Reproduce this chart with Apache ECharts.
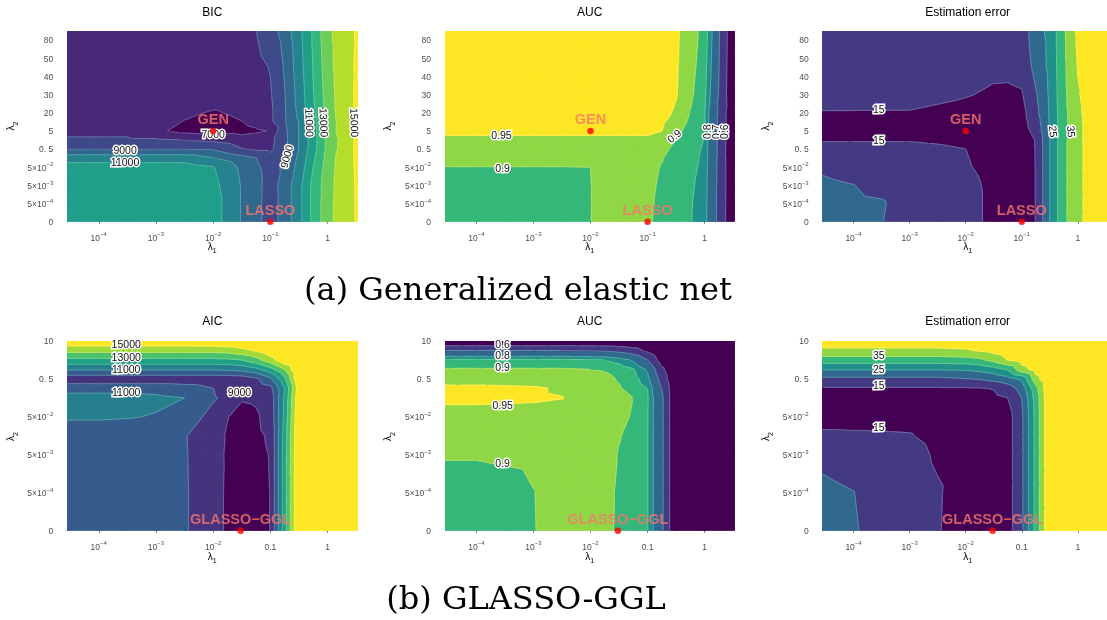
<!DOCTYPE html>
<html>
<head>
<meta charset="utf-8">
<script src="https://cdn.jsdelivr.net/npm/echarts@6/dist/echarts.min.js"></script>
<style>
  html, body { margin: 0; padding: 0; background: #ffffff; }
  #chart { width: 1107px; height: 620px; }
</style>
</head>
<body>
<div id="chart"></div>
<script>
// ---------- grids of the tuning parameters ----------
// λ1 on a log10 scale, λ2 as the position of its grid value on the λ2 axis
const lam1Top = [-4.55, -4, -3.5, -3, -2.5, -2, -1.5, -1.25, -1, -0.75, -0.5, -0.25, 0, 0.15, 0.3, 0.52];
const lam2Top = [0, 1, 2, 3, 3.5, 4, 4.5, 5, 5.5, 6, 7, 8.5, 10.5];
const lam1Bot = [-4.55, -4, -3.5, -3, -2.5, -2, -1.75, -1.5, -1.25, -1, -0.75, -0.5, 0, 0.52];
const lam2Bot = [0, 1, 2, 2.5, 3, 3.5, 3.75, 4, 4.25, 4.5, 4.75, 5];

// tick labels
const lam2TopTicks = ['0', '5×10^-4', '5×10^-3', '5×10^-2', '0. 5', '5', '20', '30', '40', '50', '80'];
const lam2BotTicks = ['0', '5×10^-4', '5×10^-3', '5×10^-2', '0. 5', '10'];
const lam1TickPos = [-4, -3, -2, -1, 0];
const lam1TopTicks = ['10^-4', '10^-3', '10^-2', '10^-1', '1'];
const lam1BotTicks = ['10^-4', '10^-3', '10^-2', '0.1', '1'];

// ---------- (a) generalized elastic net: rows follow lam2Top, columns lam1Top ----------
const bicValues = [
  [11500,11500,11500,11500,11500,11460,9930,9320,8500,9420,10670,12290,13620,14175,14550,15100],
  [11500,11500,11500,11500,11500,11460,9930,9320,8500,9420,10670,12290,13620,14175,14550,15100],
  [11500,11500,11500,11500,11500,11300,9930,9320,8550,9420,10670,12290,13550,14130,14540,15120],
  [11400,11400,11400,11400,11400,11050,9800,9200,8600,9200,10330,12000,13450,14090,14530,15150],
  [10600,10600,10600,10600,10600,10050,9360,9020,8300,9080,10190,11800,13360,14050,14500,15180],
  [8960,8960,8960,8960,8960,8900,8050,7850,7800,8830,10020,11600,13280,13915,14460,15200],
  [8150,8150,8150,8150,7980,7800,7400,7500,7700,8730,10020,11530,13250,13875,14440,15200],
  [7700,7700,7700,7200,6700,6500,6700,6850,7050,8800,10020,11600,13320,14000,14490,15200],
  [7600,7600,7600,7400,6950,6650,6980,7300,7800,8900,10050,11550,13300,13980,14480,15200],
  [7600,7600,7600,7500,7200,6900,7200,7400,7800,8900,10250,11800,13380,14060,14515,15180],
  [7600,7600,7600,7600,7600,7600,7600,7600,7900,8950,10400,11950,13450,14115,14545,15180],
  [7700,7700,7700,7700,7700,7700,7700,7700,8050,9100,10550,12050,13580,14180,14570,15150],
  [7700,7700,7700,7700,7700,7700,7700,7990,8585,9390,10710,12170,13720,14240,14600,15120]
];
const aucTopValues = [
  [0.875,0.875,0.875,0.875,0.875,0.899,0.93,0.93,0.905,0.89,0.87,0.853,0.82,0.736,0.641,0.51],
  [0.875,0.875,0.875,0.875,0.875,0.899,0.93,0.93,0.907,0.891,0.871,0.855,0.822,0.737,0.642,0.51],
  [0.875,0.875,0.875,0.875,0.875,0.899,0.93,0.93,0.91,0.893,0.873,0.86,0.825,0.738,0.643,0.51],
  [0.898,0.898,0.898,0.898,0.898,0.9,0.93,0.93,0.915,0.897,0.88,0.87,0.83,0.74,0.645,0.51],
  [0.93,0.93,0.93,0.93,0.93,0.93,0.93,0.93,0.93,0.903,0.88,0.872,0.835,0.737,0.65,0.5],
  [0.935,0.935,0.935,0.935,0.935,0.935,0.935,0.935,0.935,0.915,0.885,0.875,0.84,0.732,0.66,0.48],
  [0.94,0.94,0.94,0.94,0.94,0.94,0.94,0.94,0.94,0.93,0.898,0.878,0.847,0.726,0.668,0.46],
  [0.96,0.96,0.96,0.96,0.96,0.96,0.96,0.96,0.96,0.95,0.915,0.88,0.853,0.72,0.677,0.435],
  [0.962,0.962,0.962,0.962,0.962,0.962,0.962,0.962,0.962,0.955,0.93,0.89,0.855,0.73,0.672,0.45],
  [0.965,0.965,0.965,0.965,0.965,0.965,0.965,0.965,0.965,0.96,0.945,0.898,0.852,0.74,0.668,0.47],
  [0.965,0.965,0.965,0.965,0.965,0.965,0.965,0.965,0.965,0.962,0.953,0.91,0.862,0.765,0.66,0.5],
  [0.965,0.965,0.965,0.965,0.965,0.965,0.965,0.965,0.965,0.963,0.955,0.918,0.87,0.777,0.665,0.505],
  [0.965,0.965,0.965,0.965,0.965,0.965,0.965,0.965,0.965,0.963,0.957,0.925,0.88,0.79,0.67,0.51]
];
const errTopValues = [
  [21,21,20.2,17.5,16.5,16.5,14,12.5,12,15.125,25,34,38.4,41,42,43],
  [21,21,20.5,17.5,16.5,16.5,14,12.5,12,15.125,25,34,38.4,41,42,43],
  [21,20.1,18.5,17,16.5,16.3,14,12.5,12,15.125,25,34,38.4,41,42,43],
  [19.2,18,17,16.5,16,15.5,13.5,12.5,12,15.125,25,34,38.4,41,42,43],
  [16.5,16.5,16.5,16.5,16.5,15.3,13,12,12,15.2,25,34,38.4,41,42,43],
  [15.9,15.9,15.9,15.9,15.6,15.02,12.5,12,12,15.2,25,34,38.4,41,42,43],
  [14.8,14.8,14.8,14.8,14.5,14,12,11.5,11.8,15.3,25,33.8,38.5,41,42,43],
  [13.5,13.5,13.5,13.5,13.2,12.5,11.5,11.5,13,16.5,25.2,33.5,38.5,41,42,43],
  [14,14,14,14,13.8,13,12,12.5,13.2,17.5,25.5,33.5,38.6,41,42,43],
  [14.8,14.8,14.8,14.8,14.3,13.5,12.8,13,13.5,18.5,25.6,33.6,38.8,41.2,42.2,43.2],
  [16.5,16.5,16.3,16.2,15.8,15.3,14.3,14.2,14.6,19.5,25.8,33.8,39.5,41.5,42.5,43.5],
  [16.5,16.5,16.5,16.5,16.5,16.3,16,16,16.5,21.5,26.2,34,40.2,41.8,42.8,43.8],
  [16.5,16.5,16.5,16.5,16.5,16.6,16.8,17,17.1,22.9,26.4,34.2,41,42,43,44]
];

// ---------- (b) GLASSO-GGL: rows follow lam2Bot, columns lam1Bot ----------
const aicValues = [
  [10500,10500,10500,10500,10120,9260,8900,8700,8800,9010,12570,16150,17000,17000],
  [10500,10500,10500,10500,10120,9260,8900,8700,8800,9010,12570,16150,17000,17000],
  [10500,10500,10500,10500,10100,9230,8920,8720,8820,9030,12550,16150,17000,17000],
  [10500,10500,10500,10500,10080,9200,8950,8750,8850,9100,12500,16100,17000,17000],
  [11100,11100,11050,10950,10500,9700,9020,8800,8900,9300,12300,16000,17000,17000],
  [11300,11300,11250,11150,11000,10100,9800,9050,9100,9400,12200,15800,17000,17000],
  [10700,10700,10700,10700,10500,10010,9500,9300,9350,9700,12000,15600,17000,17000],
  [9300,9300,9300,9300,9300,9300,9300,9400,9800,10800,12800,16000,17000,17000],
  [11100,11100,11100,11100,11100,11100,11150,11300,11700,12600,14000,16200,17000,17000],
  [12750,12750,12750,12750,12750,12750,12800,13000,13600,14600,15800,16500,17000,17000],
  [14310,14310,14310,14310,14310,14330,14400,14700,15100,15700,16200,16600,17000,17000],
  [15750,15750,15750,15750,15750,15800,15900,16000,16200,16400,16600,16800,17000,17000]
];
const aucBotValues = [
  [0.87,0.87,0.87,0.897,0.93,0.93,0.93,0.88,0.87,0.852,0.72,0.5,0.5,0.5],
  [0.87,0.87,0.875,0.898,0.93,0.93,0.93,0.885,0.87,0.852,0.72,0.5,0.5,0.5],
  [0.905,0.905,0.91,0.915,0.93,0.93,0.93,0.895,0.875,0.852,0.72,0.5,0.5,0.5],
  [0.93,0.93,0.93,0.93,0.93,0.93,0.93,0.905,0.875,0.852,0.72,0.5,0.5,0.5],
  [0.935,0.935,0.935,0.935,0.935,0.935,0.935,0.925,0.89,0.853,0.72,0.5,0.5,0.5],
  [0.958,0.958,0.957,0.955,0.951,0.935,0.93,0.925,0.9,0.855,0.72,0.5,0.5,0.5],
  [0.96,0.96,0.958,0.955,0.945,0.93,0.92,0.905,0.88,0.85,0.7,0.5,0.5,0.5],
  [0.93,0.93,0.93,0.93,0.93,0.925,0.915,0.895,0.87,0.82,0.66,0.5,0.5,0.5],
  [0.905,0.905,0.905,0.905,0.905,0.9,0.895,0.88,0.855,0.79,0.62,0.5,0.5,0.5],
  [0.86,0.86,0.86,0.86,0.86,0.855,0.85,0.83,0.79,0.7,0.55,0.5,0.5,0.5],
  [0.7,0.7,0.7,0.7,0.7,0.695,0.69,0.67,0.64,0.58,0.5,0.5,0.5,0.5],
  [0.5,0.5,0.5,0.5,0.5,0.5,0.5,0.5,0.5,0.5,0.5,0.5,0.5,0.5]
];
const errBotValues = [
  [21,20.5,18,17,15.3,13,12.5,12.3,13,19,31.5,45,45,45],
  [21,20.1,17.5,16.8,15.4,13.1,12.5,12.3,13,19,31.5,45,45,45],
  [19,18,17,16.3,14.5,13.3,12.6,12.4,13,19,31.5,45,45,45],
  [15.5,15.4,15.3,15.2,14,13,12.5,12.3,13,19,31.5,45,45,45],
  [14,14,14,14,13.5,13,12.5,12.3,13,19,31.5,45,45,45],
  [13,13,13,13,13,13,13.5,14,15.02,20.02,32,45,45,45],
  [14.5,14.5,14.5,14.5,14.5,14.5,14.7,15.2,17.5,22,33.5,45,45,45],
  [18.8,18.8,18.8,18.8,18.8,19.8,20.3,21.5,23,26,38,45,45,45],
  [25.3,25.3,25.3,25.3,25.3,25.6,26.3,27.8,30.5,38,42,45,45,45],
  [32.5,32.5,32.5,32.5,32.5,33,34,36.5,40,42,44,45,45,45],
  [39.2,39.2,39.2,39.2,39.2,39.5,40.3,41.5,43,44,45,45,45,45],
  [42,42,42,42,42,42.5,43,44,44.5,45,45,45,45,45]
];

// contour levels (band edges)
const bicBreaks = [6000, 7000, 8000, 9000, 10000, 11000, 12000, 13000, 14000, 15000, 16000];
const aicBreaks = [8000, 9000, 10000, 11000, 12000, 13000, 14000, 15000, 16000];
const aucBreaks = [0.5, 0.6, 0.7, 0.8, 0.85, 0.9, 0.95, 1.0];
const errBreaks = [10, 15, 20, 25, 30, 35, 40, 45];

// contour labels: [log10 λ1, λ2 position, text, angle]
const bicLabels = [[-2.0, 4.78, '7000', 0], [-3.54, 3.91, '9000', 0], [-3.54, 3.22, '11000', 0],
  [-0.70, 3.58, '9000', 75], [-0.33, 5.45, '11000', -88], [-0.08, 5.45, '13000', -88], [0.455, 5.45, '15000', -88]];
const aucTopLabels = [[-3.56, 4.72, '0.95', 0], [-3.54, 2.9, '0.9', 0], [-0.525, 4.68, '0.9', 40],
  [0.057, 4.96, '0.8', 90], [0.215, 4.96, '0.7', 90], [0.367, 4.96, '0.6', 90]];
const errTopLabels = [[-3.55, 6.15, '15', 0], [-3.55, 4.41, '15', 0], [-0.456, 4.96, '25', -85], [-0.135, 4.96, '35', -85]];
const aicLabels = [[-3.52, 4.89, '15000', 0], [-3.52, 4.54, '13000', 0], [-3.52, 4.22, '11000', 0],
  [-3.52, 3.62, '11000', 0], [-1.54, 3.62, '9000', 0]];
const aucBotLabels = [[-3.54, 4.89, '0.6', 0], [-3.54, 4.59, '0.8', 0], [-3.54, 4.28, '0.9', 0],
  [-3.54, 3.29, '0.95', 0], [-3.54, 1.76, '0.9', 0]];
const errBotLabels = [[-3.55, 4.59, '35', 0], [-3.55, 4.24, '25', 0], [-3.55, 3.81, '15', 0], [-3.55, 2.7, '15', 0]];

// selected models
const topModels = [['GEN', -2, 5], ['LASSO', -1, 0]];
const botModels = [['GLASSO\u2212GGL', -1.52, 0]];

// ---------- drawing ----------
const FONT = 'Liberation Sans';
const viridis10 = ['#440154','#482878','#3E4A89','#31688E','#26828E','#1F9E89','#35B779','#6DCD59','#B4DE2C','#FDE725'];
const viridis8 = ['#440154','#46337E','#365C8D','#277F8E','#1FA187','#4AC16D','#9FDA3A','#FDE725'];
const viridis7 = ['#440154','#443A83','#31688E','#21908C','#35B779','#8FD744','#FDE725'];

const panels = [
  { title: 'BIC', xs: lam1Top, ys: lam2Top, z: bicValues, breaks: bicBreaks, colors: viridis10, labels: bicLabels, models: topModels, row: 0 },
  { title: 'AUC', xs: lam1Top, ys: lam2Top, z: aucTopValues, breaks: aucBreaks, colors: viridis7, labels: aucTopLabels, models: topModels, row: 0 },
  { title: 'Estimation error', xs: lam1Top, ys: lam2Top, z: errTopValues, breaks: errBreaks, colors: viridis7, labels: errTopLabels, models: topModels, row: 0 },
  { title: 'AIC', xs: lam1Bot, ys: lam2Bot, z: aicValues, breaks: aicBreaks, colors: viridis8, labels: aicLabels, models: botModels, row: 1 },
  { title: 'AUC', xs: lam1Bot, ys: lam2Bot, z: aucBotValues, breaks: aucBreaks, colors: viridis7, labels: aucBotLabels, models: botModels, row: 1 },
  { title: 'Estimation error', xs: lam1Bot, ys: lam2Bot, z: errBotValues, breaks: errBreaks, colors: viridis7, labels: errBotLabels, models: botModels, row: 1 }
];

const colLeft = [67.3, 445, 822.7];
const colWidth = [290, 289.3, 290];
const rowTop = [31, 341];
const rowHeight = [190.7, 189.7];

function supText(s) {
  const k = s.indexOf('^');
  if (k < 0) return '{b|' + s + '}';
  return '{b|' + s.slice(0, k) + '}{s|' + s.slice(k + 1).replace('-', '\u2212') + '}';
}
const tickRich = {
  b: { fontSize: 8.5, fontFamily: FONT, color: '#4D4D4D', lineHeight: 11, verticalAlign: 'bottom' },
  s: { fontSize: 6, fontFamily: FONT, color: '#4D4D4D', lineHeight: 7, verticalAlign: 'top' }
};

// Sutherland–Hodgman clip of a polygon against f(p) >= 0, interpolating the value linearly
function clipPoly(poly, f) {
  const out = [];
  for (let m = 0; m < poly.length; m++) {
    const a = poly[m], b = poly[(m + 1) % poly.length];
    const fa = f(a), fb = f(b);
    if (fa >= 0) out.push(a);
    if ((fa >= 0) !== (fb >= 0)) {
      const t = fa / (fa - fb);
      out.push({ x: a.x + t * (b.x - a.x), y: a.y + t * (b.y - a.y), v: a.v + t * (b.v - a.v) });
    }
  }
  return out;
}

function cellTriangles(p, i, j, api) {
  const node = (a, b) => {
    const c = api.coord([p.xs[a], p.ys[b]]);
    return { x: c[0], y: c[1], v: p.z[b][a] };
  };
  const p00 = node(i, j), p10 = node(i + 1, j), p01 = node(i, j + 1), p11 = node(i + 1, j + 1);
  return [[p00, p10, p11], [p00, p11, p01]];
}

function fillRenderer(p) {
  const nb = p.colors.length;
  return function (params, api) {
    const i = api.value(0), j = api.value(1);
    const children = [];
    for (const tri of cellTriangles(p, i, j, api)) {
      for (let k = 0; k < nb; k++) {
        const lo = k === 0 ? -Infinity : p.breaks[k];
        const hi = k === nb - 1 ? Infinity : p.breaks[k + 1];
        let poly = clipPoly(tri, q => q.v - lo);
        if (poly.length < 3) continue;
        poly = clipPoly(poly, q => hi - q.v);
        if (poly.length < 3) continue;
        children.push({
          type: 'polygon',
          shape: { points: poly.map(q => [q.x, q.y]) },
          style: { fill: p.colors[k], stroke: p.colors[k], lineWidth: 1.3, lineJoin: 'round' }
        });
      }
    }
    return { type: 'group', children };
  };
}

function lineRenderer(p) {
  return function (params, api) {
    const i = api.value(0), j = api.value(1);
    const children = [];
    for (const tri of cellTriangles(p, i, j, api)) {
      for (let k = 1; k < p.breaks.length - 1; k++) {
        const L = p.breaks[k];
        const pts = [];
        for (let m = 0; m < 3; m++) {
          const a = tri[m], b = tri[(m + 1) % 3];
          if ((a.v < L) !== (b.v < L)) {
            const t = (L - a.v) / (b.v - a.v);
            pts.push([a.x + t * (b.x - a.x), a.y + t * (b.y - a.y)]);
          }
        }
        if (pts.length >= 2) {
          children.push({
            type: 'line',
            shape: { x1: pts[0][0], y1: pts[0][1], x2: pts[1][0], y2: pts[1][1] },
            style: { stroke: 'rgba(255,255,255,0.45)', lineWidth: 0.5 }
          });
        }
      }
    }
    return { type: 'group', children };
  };
}

function labelRenderer(p) {
  return function (params, api) {
    const l = p.labels[params.dataIndex];
    const c = api.coord([l[0], l[1]]);
    return {
      type: 'text', x: c[0], y: c[1], rotation: l[3] * Math.PI / 180,
      style: {
        text: l[2], fontSize: 10.5, fontFamily: FONT, fill: '#111111',
        stroke: '#ffffff', lineWidth: 3, align: 'center', verticalAlign: 'middle'
      }
    };
  };
}

const grid = [], xAxis = [], yAxis = [], series = [], graphic = [];

panels.forEach((p, g) => {
  const col = g % 3;
  const row = p.row;
  grid.push({ left: colLeft[col], top: rowTop[row], width: colWidth[col], height: rowHeight[row], containLabel: false });

  const xTicks = row === 0 ? lam1TopTicks : lam1BotTicks;
  xAxis.push({
    gridIndex: g, type: 'value', min: -4.55, max: 0.52, offset: 5,
    axisLine: { show: false }, splitLine: { show: false },
    axisTick: { show: true, length: 2, customValues: lam1TickPos, lineStyle: { color: '#4D4D4D', width: 0.8 } },
    axisLabel: {
      customValues: lam1TickPos, margin: 5, rich: tickRich,
      formatter: v => supText(xTicks[lam1TickPos.indexOf(Math.round(v))] || '')
    }
  });

  const yTicks = row === 0 ? lam2TopTicks : lam2BotTicks;
  const yPos = yTicks.map((_, k) => k);
  yAxis.push({
    gridIndex: g, type: 'value', min: 0, max: row === 0 ? 10.5 : 5, offset: 10,
    axisLine: { show: false }, splitLine: { show: false },
    axisTick: { show: true, length: 2.5, customValues: yPos, lineStyle: { color: '#4D4D4D', width: 0.8 } },
    axisLabel: {
      customValues: yPos, margin: 4, rich: tickRich,
      formatter: v => supText(yTicks[Math.round(v)] || '')
    }
  });

  const cells = [];
  for (let j = 0; j < p.ys.length - 1; j++)
    for (let i = 0; i < p.xs.length - 1; i++) cells.push([i, j]);

  series.push({
    type: 'custom', xAxisIndex: g, yAxisIndex: g, data: cells, clip: true, silent: true, z: 1,
    renderItem: fillRenderer(p)
  });
  series.push({
    type: 'custom', xAxisIndex: g, yAxisIndex: g, data: cells, clip: true, silent: true, z: 2,
    renderItem: lineRenderer(p)
  });
  series.push({
    type: 'custom', xAxisIndex: g, yAxisIndex: g, data: p.labels.map(l => [l[0], l[1]]), clip: false, silent: true, z: 3,
    renderItem: labelRenderer(p)
  });
  series.push({
    type: 'scatter', xAxisIndex: g, yAxisIndex: g, clip: false, silent: true, z: 4,
    symbol: 'circle', symbolSize: 6.5, itemStyle: { color: '#FF0000' },
    data: p.models.map(m => ({ name: m[0], value: [m[1], m[2]] })),
    label: {
      show: true, position: 'top', distance: 0, formatter: '{b}',
      color: '#F8766D', fontSize: 14.5, fontWeight: 'bold', fontFamily: FONT
    }
  });

  const cx = colLeft[col] + colWidth[col] / 2;
  const titleY = row === 0 ? 12.7 : 321.7;
  graphic.push({
    type: 'text', x: cx, y: titleY,
    style: { text: p.title, fontSize: 12, fontFamily: FONT, fill: '#000000', align: 'center', verticalAlign: 'middle' }
  });
  graphic.push({
    type: 'text', x: cx, y: row === 0 ? 248.5 : 558.5,
    style: {
      text: '{a|λ}{b|1}', align: 'center', verticalAlign: 'middle',
      rich: {
        a: { fontSize: 10, fontFamily: FONT, fill: '#000000', lineHeight: 13, verticalAlign: 'top' },
        b: { fontSize: 7, fontFamily: FONT, fill: '#000000', lineHeight: 8, verticalAlign: 'bottom' }
      }
    }
  });
  const lamX = [13, 390, 768][col];
  graphic.push({
    type: 'text', x: lamX, y: row === 0 ? 126 : 436.5, rotation: Math.PI / 2,
    style: {
      text: '{a|λ}{b|2}', align: 'center', verticalAlign: 'middle',
      rich: {
        a: { fontSize: 10, fontFamily: FONT, fill: '#000000', lineHeight: 13, verticalAlign: 'top' },
        b: { fontSize: 7, fontFamily: FONT, fill: '#000000', lineHeight: 8, verticalAlign: 'bottom' }
      }
    }
  });
});

graphic.push({
  type: 'text', x: 518, y: 292,
  style: { text: '(a) Generalized elastic net', fontSize: 32, fontFamily: 'DejaVu Serif', fill: '#000000', align: 'center', verticalAlign: 'middle' }
});
graphic.push({
  type: 'text', x: 526, y: 601,
  style: { text: '(b) GLASSO-GGL', fontSize: 32, fontFamily: 'DejaVu Serif', fill: '#000000', align: 'center', verticalAlign: 'middle' }
});

const chart = echarts.init(document.getElementById('chart'), null, { renderer: 'canvas' });
chart.setOption({
  animation: false,
  backgroundColor: '#ffffff',
  textStyle: { fontFamily: FONT },
  grid, xAxis, yAxis, series, graphic
});
</script>
</body>
</html>
